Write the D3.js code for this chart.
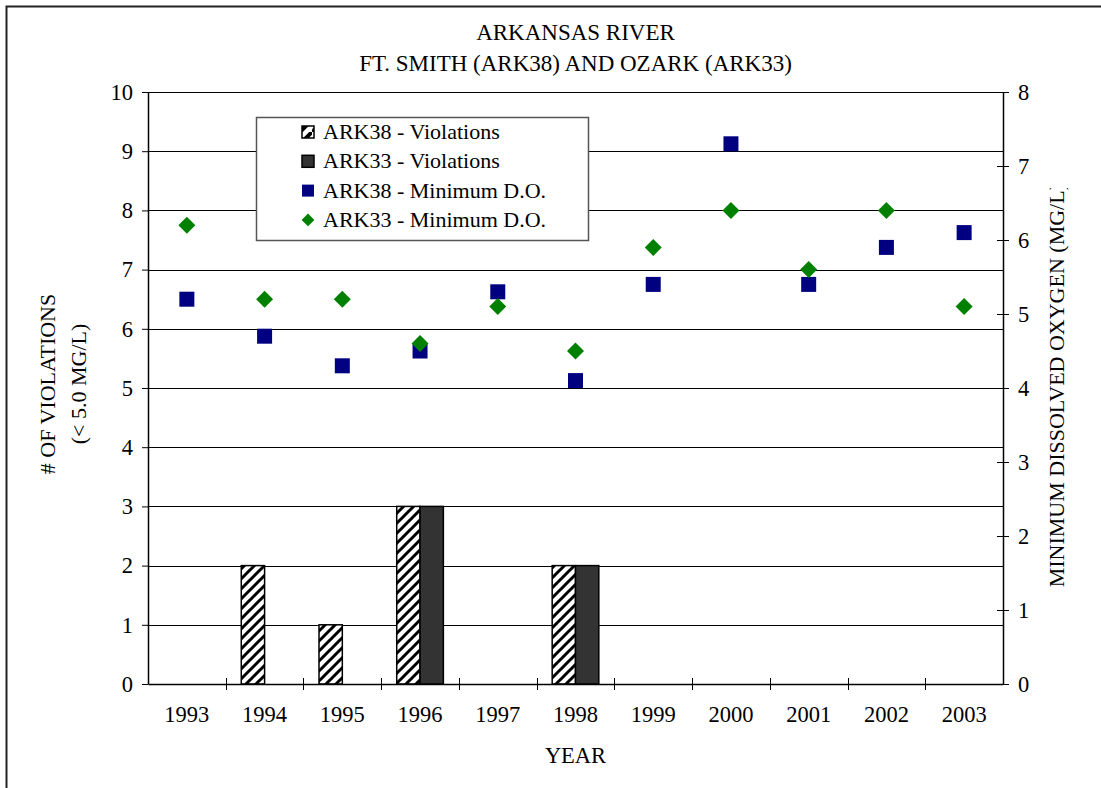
<!DOCTYPE html>
<html>
<head>
<meta charset="utf-8">
<script src="https://cdn.jsdelivr.net/npm/d3@7"></script>
<style>
  body { margin: 0; background: #fff; }
</style>
</head>
<body>
<svg id="chart" width="1101" height="788"></svg>
<script>
// Arkansas River monitoring: violations (< 5.0 mg/L) and minimum dissolved oxygen
const years = ["1993", "1994", "1995", "1996", "1997", "1998", "1999", "2000", "2001", "2002", "2003"];
const ark38Violations = [0, 2, 1, 3, 0, 2, 0, 0, 0, 0, 0];
const ark33Violations = [0, 0, 0, 3, 0, 2, 0, 0, 0, 0, 0];
const ark38MinDO = [5.2, 4.7, 4.3, 4.5, 5.3, 4.1, 5.4, 7.3, 5.4, 5.9, 6.1];
const ark33MinDO = [6.2, 5.2, 5.2, 4.6, 5.1, 4.5, 5.9, 6.4, 5.6, 6.4, 5.1];
const violationTicks = [0, 1, 2, 3, 4, 5, 6, 7, 8, 9, 10];
const oxygenTicks = [0, 1, 2, 3, 4, 5, 6, 7, 8];
const titleLines = ["ARKANSAS RIVER", "FT. SMITH (ARK38) AND OZARK (ARK33)"];
const legendLabels = ["ARK38 - Violations", "ARK33 - Violations", "ARK38 - Minimum D.O.", "ARK33 - Minimum D.O."];

const svg = d3.select("#chart");
const plot = { left: 148, right: 1003, top: 92, bottom: 684 };
const FONT = "'Liberation Serif', 'Times New Roman', serif";
const styleText = (sel, size) => sel.style("font-family", FONT).style("font-size", size + "px").attr("fill", "#000");

// hatch pattern for ARK38 bars
const defs = svg.append("defs");
const hatch = defs.append("pattern")
  .attr("id", "hatch")
  .attr("patternUnits", "userSpaceOnUse")
  .attr("width", 10).attr("height", 10);
hatch.append("rect").attr("width", 10).attr("height", 10).attr("fill", "#fff");
hatch.append("path")
  .attr("d", "M-2,12 L12,-2 M-2,2 L2,-2 M8,12 L12,8")
  .attr("stroke", "#000").attr("stroke-width", 3);

const legendHatch = defs.append("pattern")
  .attr("id", "hatchSmall")
  .attr("patternUnits", "userSpaceOnUse")
  .attr("width", 12).attr("height", 12);
legendHatch.append("rect").attr("width", 12).attr("height", 12).attr("fill", "#fff");
legendHatch.append("path")
  .attr("d", "M-2,14 L14,-2")
  .attr("stroke", "#000").attr("stroke-width", 4);

defs.append("clipPath").attr("id", "rightTitleClip")
  .append("rect").attr("x", 1030).attr("y", 188).attr("width", 71).attr("height", 600);

// outer frame (left and top edges visible)
svg.append("path")
  .attr("d", "M6.5,788 V6.5 H1101")
  .attr("fill", "none").attr("stroke", "#222").attr("stroke-width", 2);

// scales
const x = d3.scaleBand().domain(years).range([plot.left, plot.right]).paddingInner(0).paddingOuter(0);
const xSub = d3.scaleBand().domain(["ark38", "ark33"]).range([0, x.bandwidth()]).paddingInner(0).paddingOuter(2 / 3);
const yLeft = d3.scaleLinear().domain([0, 10]).range([plot.bottom, plot.top]);
const yRight = d3.scaleLinear().domain([0, 8]).range([plot.bottom, plot.top]);

// horizontal gridlines
svg.append("g")
  .selectAll("line")
  .data(violationTicks.filter(d => d > 0))
  .join("line")
  .attr("x1", plot.left).attr("x2", plot.right)
  .attr("y1", d => Math.round(yLeft(d)) + 0.5).attr("y2", d => Math.round(yLeft(d)) + 0.5)
  .attr("stroke", "#000").attr("stroke-width", 1);

// bars
const barData = [];
years.forEach((yr, i) => {
  barData.push({ year: yr, series: "ark38", value: ark38Violations[i] });
  barData.push({ year: yr, series: "ark33", value: ark33Violations[i] });
});
svg.append("g")
  .selectAll("rect")
  .data(barData.filter(d => d.value > 0))
  .join("rect")
  .attr("x", d => x(d.year) + xSub(d.series))
  .attr("width", xSub.bandwidth())
  .attr("y", d => yLeft(d.value))
  .attr("height", d => yLeft(0) - yLeft(d.value))
  .attr("fill", d => d.series === "ark38" ? "url(#hatch)" : "#333333")
  .attr("stroke", "#000").attr("stroke-width", 1.5);

// axes
const axisStyle = g => {
  g.attr("font-family", null).attr("font-size", null);
  g.select(".domain").attr("stroke", "#000").attr("stroke-width", 1.5);
  g.selectAll(".tick line").attr("stroke", "#000");
  g.selectAll(".tick text").call(styleText, 22.5);
};

const leftAxis = svg.append("g")
  .attr("transform", `translate(${plot.left},0)`)
  .call(d3.axisLeft(yLeft).tickValues(violationTicks).tickSize(6).tickPadding(9).tickSizeOuter(0));
axisStyle(leftAxis);

const rightAxis = svg.append("g")
  .attr("transform", `translate(${plot.right},0)`)
  .call(d3.axisRight(yRight).tickValues(oxygenTicks).tickSize(6).tickPadding(9).tickSizeOuter(0));
axisStyle(rightAxis);
rightAxis.selectAll(".tick line").attr("x1", -6);

const bottomAxis = svg.append("g")
  .attr("transform", `translate(0,${plot.bottom})`)
  .call(d3.axisBottom(x).tickSize(0).tickPadding(22).tickSizeOuter(0));
axisStyle(bottomAxis);
// category boundary tick marks
bottomAxis.append("g")
  .selectAll("line")
  .data(years.slice(1))
  .join("line")
  .attr("x1", d => Math.round(x(d)) + 0.5).attr("x2", d => Math.round(x(d)) + 0.5)
  .attr("y1", -6).attr("y2", 6)
  .attr("stroke", "#000");

// markers: minimum dissolved oxygen
const squareSym = d3.symbol().type(d3.symbolSquare).size(225);
const diamondSym = d3.symbol().type(d3.symbolSquare).size(144);

svg.append("g")
  .selectAll("path")
  .data(years.map((yr, i) => ({ year: yr, value: ark38MinDO[i] })))
  .join("path")
  .attr("d", squareSym)
  .attr("transform", d => `translate(${x(d.year) + x.bandwidth() / 2},${yRight(d.value)})`)
  .attr("fill", "#000080");

svg.append("g")
  .selectAll("path")
  .data(years.map((yr, i) => ({ year: yr, value: ark33MinDO[i] })))
  .join("path")
  .attr("d", diamondSym)
  .attr("transform", d => `translate(${x(d.year) + x.bandwidth() / 2},${yRight(d.value)}) rotate(45)`)
  .attr("fill", "#008000");

// title
svg.append("g")
  .selectAll("text")
  .data(titleLines)
  .join("text")
  .attr("x", (plot.left + plot.right) / 2)
  .attr("y", (d, i) => 40 + i * 31)
  .attr("text-anchor", "middle")
  .call(styleText, 23)
  .text(d => d);

// axis titles
svg.append("text")
  .attr("text-anchor", "middle")
  .attr("transform", "translate(55,384) rotate(-90)")
  .call(styleText, 22)
  .text("# OF VIOLATIONS");
svg.append("text")
  .attr("text-anchor", "middle")
  .attr("transform", "translate(86,384) rotate(-90)")
  .call(styleText, 22)
  .text("(< 5.0 MG/L)");

svg.append("g").attr("clip-path", "url(#rightTitleClip)")
  .append("text")
  .attr("text-anchor", "end")
  .attr("transform", "translate(1064,183) rotate(-90)")
  .call(styleText, 22)
  .text("MINIMUM DISSOLVED OXYGEN (MG/L)");

svg.append("text")
  .attr("x", (plot.left + plot.right) / 2)
  .attr("y", 763)
  .attr("text-anchor", "middle")
  .call(styleText, 22.5)
  .text("YEAR");

// legend
const legend = svg.append("g");
legend.append("rect")
  .attr("x", 256.5).attr("y", 117.5).attr("width", 332).attr("height", 123)
  .attr("fill", "#fff").attr("stroke", "#555").attr("stroke-width", 1.5);

const rowY = i => 132 + i * 29.3;
const symX = 308;
legend.append("rect").attr("x", symX - 6).attr("y", rowY(0) - 6).attr("width", 12).attr("height", 12)
  .attr("fill", "url(#hatchSmall)").attr("stroke", "#000").attr("stroke-width", 1.5);
legend.append("rect").attr("x", symX - 6).attr("y", rowY(1) - 6).attr("width", 12).attr("height", 12)
  .attr("fill", "#333333").attr("stroke", "#000").attr("stroke-width", 1.5);
legend.append("path").attr("d", d3.symbol().type(d3.symbolSquare).size(144))
  .attr("transform", `translate(${symX},${rowY(2)})`).attr("fill", "#000080");
legend.append("path").attr("d", d3.symbol().type(d3.symbolSquare).size(81))
  .attr("transform", `translate(${symX},${rowY(3)}) rotate(45)`).attr("fill", "#008000");

legend.selectAll("text.lbl")
  .data(legendLabels)
  .join("text")
  .attr("class", "lbl")
  .attr("x", 323)
  .attr("y", (d, i) => rowY(i) + 7)
  .call(styleText, 22)
  .text(d => d);
</script>
</body>
</html>
